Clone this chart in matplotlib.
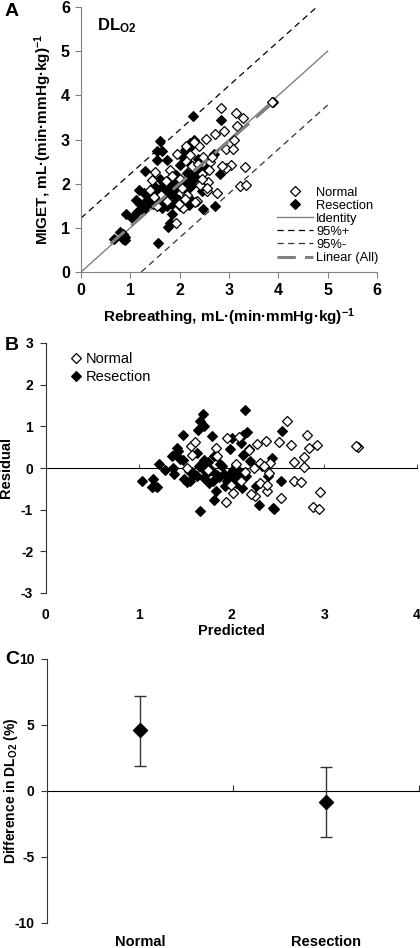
import matplotlib
matplotlib.use("Agg")
import matplotlib.pyplot as plt
import numpy as np

plt.rcParams['font.family'] = ['Liberation Sans', 'DejaVu Sans']
plt.rcParams['mathtext.fontset'] = 'custom'
plt.rcParams['mathtext.rm'] = 'Liberation Sans'
plt.rcParams['mathtext.bf'] = 'Liberation Sans:bold'
plt.rcParams['mathtext.it'] = 'Liberation Sans:italic'
plt.rcParams['axes.unicode_minus'] = False

# ---------------- Panel A data ----------------
a_normal_x = [2.83, 3.14, 3.29, 3.17, 2.90, 2.72, 2.53, 2.40, 2.30, 2.13, 1.94, 3.10, 2.94, 3.09,
              3.33, 3.04, 2.94, 3.23, 3.34, 2.75, 2.58, 2.55, 2.46, 2.42, 2.35, 2.06, 1.93, 1.50,
              1.43, 1.40, 1.81, 1.84, 3.90, 3.88, 2.20, 2.25, 2.37, 2.48, 2.62, 2.32, 2.15, 2.05,
              1.98, 1.75, 1.62, 1.55, 1.48, 2.60, 2.55, 2.00, 2.10, 1.72, 2.45, 2.65, 2.85]
a_normal_y = [3.71, 3.60, 3.49, 3.30, 3.20, 3.12, 3.01, 2.86, 2.95, 2.85, 2.67, 2.98, 2.79, 2.79,
              2.38, 2.43, 2.35, 1.94, 1.96, 1.80, 2.03, 1.83, 2.23, 1.98, 1.60, 1.45, 1.12, 2.26,
              2.09, 1.86, 2.32, 2.17, 3.86, 3.85, 2.65, 2.40, 2.45, 2.60, 2.50, 1.58, 1.75, 1.90,
              1.55, 1.60, 1.75, 1.50, 1.70, 2.30, 1.90, 2.10, 1.65, 2.05, 2.10, 2.60, 2.40]
a_resect_x = [0.66, 0.80, 0.85, 0.89, 0.89, 0.91, 1.03, 1.13, 1.12, 1.18, 1.30, 1.27, 1.33, 1.41,
              1.54, 1.54, 1.60, 1.65, 1.57, 1.74, 1.77, 1.81, 1.84, 1.48, 1.59, 1.67, 1.71, 1.77,
              1.87, 1.94, 1.98, 2.01, 2.04, 2.11, 2.21, 2.30, 2.27, 2.23, 2.23, 2.14, 2.25, 2.35,
              2.42, 2.45, 2.48, 2.18, 2.08, 2.69, 2.72, 2.81, 2.83, 2.04, 1.20, 1.25, 1.35, 1.45,
              1.50, 1.55, 1.62, 1.65, 1.70, 1.75, 1.80, 1.90, 1.95, 2.00, 2.10, 2.15, 2.20, 2.30,
              1.60, 1.68, 1.85, 1.92, 2.25, 0.85, 1.05, 2.38, 2.55]
a_resect_y = [0.75, 0.90, 0.75, 0.79, 0.72, 1.31, 1.22, 1.36, 1.64, 1.86, 2.28, 1.79, 1.64, 1.69,
              2.54, 2.75, 2.97, 2.73, 0.66, 2.54, 1.03, 1.11, 1.32, 1.94, 1.86, 1.94, 1.71, 1.71,
              1.83, 2.03, 1.64, 2.43, 2.62, 2.77, 2.92, 3.00, 3.54, 2.85, 2.43, 2.24, 1.98, 2.24,
              2.32, 1.83, 1.43, 1.52, 1.60, 2.68, 1.49, 2.23, 3.45, 1.94, 1.55, 1.40, 1.55, 1.55,
              1.80, 1.65, 1.55, 1.45, 1.90, 1.50, 2.00, 1.70, 1.95, 1.50, 2.05, 1.85, 2.20, 2.10,
              2.10, 1.65, 1.55, 2.20, 1.60, 0.85, 1.25, 2.55, 2.35]
identity_x = [0, 5]
ci_offset = 1.22
linear_x = [0.6, 3.9]
linear_slope, linear_icpt = 0.97, 0.06

# ---------------- Panel B data ----------------
b_normal_x = [2.60, 2.64, 2.51, 2.37, 2.28, 2.67, 2.67, 2.75, 2.78, 2.81, 2.84, 2.78, 2.92, 2.95,
              2.88, 2.94, 3.36, 3.34, 2.53, 2.38, 2.26, 2.21, 1.94, 2.02, 1.95, 2.08, 1.83, 1.57,
              1.61, 1.58, 2.42, 2.31, 2.24, 2.41, 2.31, 2.19, 1.85, 2.10, 2.00, 2.15, 2.35, 1.75,
              2.05, 2.38, 1.52]
b_normal_y = [1.12, 0.56, 0.62, 0.64, 0.58, 0.14, -0.30, -0.34, 0.26, 0.80, 0.48, 0.02, 0.56, -0.57,
              -0.94, -0.99, 0.50, 0.52, -0.72, -0.56, -0.66, -0.62, -0.82, -0.60, 0.72, 0.74, 0.48, 0.52,
              0.62, 0.32, 0.12, 0.12, 0.00, -0.12, -0.36, 0.44, 0.28, -0.30, -0.40, -0.10, 0.05, -0.05,
              0.10, -0.40, 0.00]
b_resect_x = [1.04, 1.16, 1.17, 1.20, 1.22, 1.29, 1.36, 1.38, 1.37, 1.41, 1.43, 1.48, 1.48, 1.49,
              1.52, 1.54, 1.58, 1.63, 1.64, 1.66, 1.69, 1.71, 1.66, 1.63, 1.68, 1.71, 1.72, 1.76,
              1.79, 1.81, 1.81, 1.83, 1.85, 1.90, 1.93, 1.97, 1.99, 2.01, 2.04, 2.08, 2.10, 2.12,
              2.13, 2.15, 2.17, 2.19, 2.20, 2.13, 2.16, 2.27, 2.30, 2.33, 2.40, 2.44, 2.46, 2.53,
              2.55, 1.45, 1.55, 1.60, 1.65, 1.70, 1.74, 1.78, 1.80, 1.87, 1.88, 1.95, 2.00, 2.05,
              2.10, 1.15, 1.75, 1.92, 2.02, 2.45]
b_resect_y = [-0.30, -0.26, -0.42, -0.46, 0.10, -0.04, 0.28, -0.14, 0.00, 0.48, 0.40, 0.80, 0.20, -0.26,
              -0.34, -0.08, -0.10, 0.36, 0.92, 1.12, 1.30, 1.02, -1.02, -0.20, 0.04, 0.20, -0.08, -0.36,
              0.76, 0.28, -0.76, -0.54, -0.16, 0.04, -0.44, -0.20, 0.46, 0.72, -0.24, -0.08, 0.60, -0.48,
              0.80, 1.40, 0.86, 0.46, 0.16, 0.32, -0.20, -0.44, -0.88, 0.04, -0.20, 0.24, -0.98, -0.30,
              0.90, 0.22, -0.30, -0.15, 0.05, -0.25, -0.12, -0.05, -0.30, -0.22, 0.10, -0.30, -0.12, -0.35,
              -0.15, -0.45, 0.15, -0.15, -0.05, -0.95]

# ---------------- Panel C data ----------------
c_groups = ['Normal', 'Resection']
c_mean = [4.6, -0.85]
c_low = [1.9, -3.5]
c_high = [7.2, 1.8]

fig = plt.figure(figsize=(4.2, 9.48), dpi=100)
W, H = 420, 948

def add_ax(l, t, r, b):
    return fig.add_axes([l / W, 1 - b / H, (r - l) / W, (b - t) / H])

gray = '#808080'

# ================= Panel A =================
axA = add_ax(81, 7, 377, 272)
axA.plot(identity_x, identity_x, color=gray, lw=1.0, label='Identity', zorder=2)
xx = np.array([0, 6.0])
axA.plot(xx, xx + ci_offset, color='black', lw=0.9, ls=(0, (5, 3.5)), label='95%+', zorder=2)
xx2 = np.array([ci_offset, 5.0])
axA.plot(xx2, xx2 - ci_offset, color='#333333', lw=0.9, ls=(0, (5, 3.5)), label='95%-', zorder=2)
lx = np.array(linear_x)
axA.plot(a_resect_x, a_resect_y, ls='none', marker='D', ms=5, mfc='black', mec='black',
         mew=0.8, label='Resection', zorder=3)
axA.plot(a_normal_x, a_normal_y, ls='none', marker='D', ms=5, mfc='white', mec='black',
         mew=0.9, label='Normal', zorder=4)
axA.plot(lx, linear_slope * lx + linear_icpt, color=gray, lw=2.2, ls=(0, (6, 3)),
         label='Linear (All)', zorder=5)
axA.set_xlim(0, 6)
axA.set_ylim(0, 6)
axA.set_xticks(range(7))
axA.set_yticks(range(7))
for s in ['top', 'right']:
    axA.spines[s].set_visible(False)
for s in ['left', 'bottom']:
    axA.spines[s].set_color(gray)
axA.tick_params(axis='x', direction='out', length=4, color=gray, pad=4, labelsize=11.5)
axA.tick_params(axis='y', direction='out', length=4, color=gray, pad=4, labelsize=11.5)
for lab in axA.get_xticklabels() + axA.get_yticklabels():
    lab.set_fontweight('bold')
axA.set_xlabel(r'Rebreathing, mL·(min·mmHg·kg)$^{\mathbf{-1}}$', fontsize=11,
               fontweight='bold')
axA.xaxis.set_label_coords(0.5, -0.128)
axA.set_ylabel(r'MIGET, mL·(min·mmHg·kg)$^{\mathbf{-1}}$', fontsize=11,
               fontweight='bold')
axA.yaxis.set_label_coords(-0.091, 0.5)
axA.text(0.33, 5.58, r'DL$_{\mathbf{O2}}$', fontsize=12, fontweight='bold', va='center')
h, l = axA.get_legend_handles_labels()
order = ['Normal', 'Resection', 'Identity', '95%+', '95%-', 'Linear (All)']
hs = [h[l.index(o)] for o in order]
axA.legend(hs, order, loc='lower left', bbox_to_anchor=(0.662, 0.03), frameon=False,
           fontsize=9.3, handlelength=2.8, handletextpad=0.23, labelspacing=0.08,
           borderaxespad=0.0, borderpad=0.0)
fig.text(5 / W, 1 - 11 / H, 'A', fontsize=14, fontweight='bold', va='center')

# ================= Panel B =================
axB = add_ax(45.7, 343, 417, 593)
axB.plot(b_resect_x, b_resect_y, ls='none', marker='D', ms=5, mfc='black', mec='black',
         mew=0.8, label='Resection', zorder=3)
axB.plot(b_normal_x, b_normal_y, ls='none', marker='D', ms=5, mfc='white', mec='black',
         mew=0.9, label='Normal', zorder=4)
axB.set_xlim(0, 4)
axB.set_ylim(-3, 3)
axB.set_xticks(range(5))
axB.set_yticks(range(-3, 4))
for s in ['top', 'right', 'bottom']:
    axB.spines[s].set_visible(False)
axB.spines['left'].set_color('#333333')
axB.tick_params(axis='x', length=0, pad=11, labelsize=10)
axB.tick_params(axis='y', direction='out', length=4, color='#333333', labelsize=10, pad=5)
for lab in axB.get_xticklabels() + axB.get_yticklabels():
    lab.set_fontweight('bold')
secB = axB.secondary_xaxis(0.5)
secB.set_xticks([1, 2, 3, 4])
secB.set_xticklabels([])
secB.tick_params(direction='out', length=3, color='#555555')
secB.spines['bottom'].set_color('black')
secB.spines['bottom'].set_linewidth(1.0)
axB.set_xlabel('Predicted', fontsize=10.5, fontweight='bold')
axB.xaxis.set_label_coords(0.5, -0.125)
axB.set_ylabel('Residual', fontsize=10.5, fontweight='bold')
axB.yaxis.set_label_coords(-0.088, 0.5)
hb, lb = axB.get_legend_handles_labels()
axB.legend([hb[1], hb[0]], ['Normal', 'Resection'], loc='upper left',
           bbox_to_anchor=(0.071, 0.964), frameon=False, fontsize=10.5,
           handlelength=0.6, handletextpad=0.35, labelspacing=0.25, borderaxespad=0.0,
           borderpad=0.0)
fig.text(5 / W, 1 - 345 / H, 'B', fontsize=14, fontweight='bold', va='center')

# ================= Panel C =================
axC = add_ax(47, 659, 419, 923)
xpos = np.arange(len(c_groups)) + 0.5
mean = np.array(c_mean)
yerr = np.array([mean - np.array(c_low), np.array(c_high) - mean])
axC.errorbar(xpos, mean, yerr=yerr, fmt='D', ms=7, mfc='black', mec='black',
             ecolor='#333333', elinewidth=1.0, capsize=4, capthick=1.0, zorder=3)
axC.set_xlim(0, 2)
axC.set_ylim(-10, 10)
axC.set_yticks([-10, -5, 0, 5, 10])
axC.set_xticks(xpos)
axC.set_xticklabels(c_groups)
for s in ['top', 'right', 'bottom']:
    axC.spines[s].set_visible(False)
axC.spines['left'].set_color('#333333')
axC.tick_params(axis='x', length=0, pad=9, labelsize=10.5)
axC.tick_params(axis='y', direction='out', length=4, color='#333333', labelsize=10, pad=5)
for lab in axC.get_xticklabels() + axC.get_yticklabels():
    lab.set_fontweight('bold')
secC = axC.secondary_xaxis(0.5)
secC.set_xticks([1, 2])
secC.set_xticklabels([])
secC.tick_params(direction='out', length=4, color='#333333')
secC.spines['bottom'].set_color('#333333')
axC.set_ylabel(r'Difference in DL$_{\mathbf{O2}}$ (%)', fontsize=10, fontweight='bold')
axC.yaxis.set_label_coords(-0.072, 0.5)
fig.text(5 / W, 1 - 660 / H, 'C', fontsize=14, fontweight='bold', va='center')

fig.savefig('out.png', dpi=100)
